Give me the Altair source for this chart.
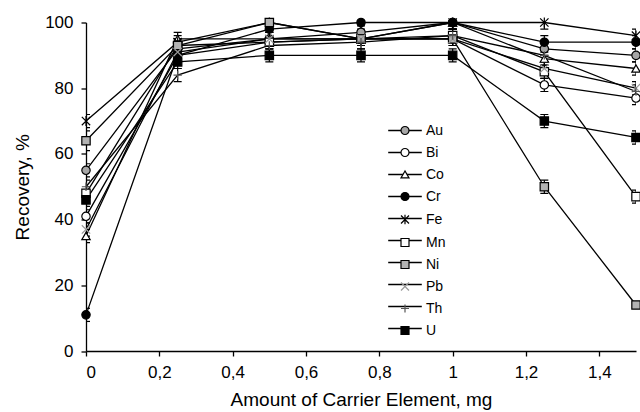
import altair as alt
import pandas as pd

# ---- data ----
x_vals = [0, 0.25, 0.5, 0.75, 1.0, 1.25, 1.5]
series_names = ["Au", "Bi", "Co", "Cr", "Fe", "Mn", "Ni", "Pb", "Th", "U"]

au = [55, 92, 95, 97, 100, 92, 90]
bi = [41, 90, 94, 95, 95, 81, 77]
co = [35, 95, 95, 95, 100, 89, 86]
cr = [11, 90, 98, 100, 100, 94, 94]
fe = [70, 94, 100, 95, 100, 100, 96]
mn = [48, 93, 94, 95, 96, 85, 47]
ni = [64, 93, 100, 95, 95, 50, 14]
pb = [37, 91, 95, 95, 95, 86, 80]
th = [50, 84, 93, 94, 96, 90, 79]
u_ = [46, 88, 90, 90, 90, 70, 65]

au_err = [2, 2, 2, 2, 2, 2, 2]
bi_err = [2, 2, 2, 2, 2, 2, 2]
co_err = [2, 2, 2, 2, 2, 2, 2]
cr_err = [2, 2, 2, 2, 2, 2, 2]
fe_err = [2, 2, 2, 2, 2, 2, 2]
mn_err = [2, 2, 2, 2, 2, 2, 2]
ni_err = [3, 2, 2, 2, 2, 2, 1]
pb_err = [2, 2, 2, 2, 2, 2, 2]
th_err = [2, 2, 2, 2, 2, 2, 2]
u_err = [2, 2, 2, 2, 2, 2, 2]

all_vals = [au, bi, co, cr, fe, mn, ni, pb, th, u_]
all_errs = [au_err, bi_err, co_err, cr_err, fe_err, mn_err, ni_err, pb_err, th_err, u_err]

rows = []
for name, vals, errs in zip(series_names, all_vals, all_errs):
    for xv, v, e in zip(x_vals, vals, errs):
        rows.append({"series": name, "series_l": name, "x": xv, "y": v,
                     "lo": v - e, "hi": v + e})
df = pd.DataFrame(rows)

# ---- styling ----
FONT = "Liberation Sans"
ASTER = "M-1,-1L1,1M-1,1L1,-1M0,-1.2L0,1.2"
XPATH = "M-1,-1L1,1M-1,1L1,-1"
PLUS = "M-1,0L1,0M0,-1L0,1"
LEGLINE = "M-4.2,0L4.2,0"
shape_range = ["circle", "circle", "triangle-up", "circle", ASTER,
               "square", "square", XPATH, PLUS, "square"]
fill_range = ["#a6a6a6", "white", "white", "black", "transparent",
              "white", "#b3b3b3", "transparent", "transparent", "black"]
stroke_range = ["black", "black", "black", "black", "black",
                "black", "black", "#9a9a9a", "#555555", "black"]

x_scale = alt.Scale(domain=[0, 1.5], nice=False, zero=False)
y_scale = alt.Scale(domain=[0, 100], nice=False)

x_axis = alt.Axis(title="Amount of Carrier Element, mg",
                  values=[0, 0.2, 0.4, 0.6, 0.8, 1.0, 1.2, 1.4],
                  labelExpr="replace(format(datum.value, '.1~f'), '.', ',')",
                  grid=False, tickSize=5, labelPadding=8, titlePadding=10)
y_axis = alt.Axis(title="Recovery, %", values=[0, 20, 40, 60, 80, 100],
                  grid=False, tickSize=5, labelPadding=8, titlePadding=12)

X = alt.X("x:Q", scale=x_scale, axis=x_axis)

LEG_X = 312
LEG_Y = 101
line_legend = alt.Legend(orient="none", legendX=LEG_X, legendY=LEG_Y, title=None,
                         symbolType=LEGLINE, symbolSize=64,
                         symbolStrokeWidth=1.3, labelFontSize=14,
                         labelFont=FONT, labelExpr="''", rowPadding=8,
                         zindex=1)
pt_legend = alt.Legend(orient="none", legendX=LEG_X, legendY=LEG_Y, title=None,
                       symbolSize=64, symbolStrokeWidth=1.2, labelFontSize=14,
                       labelFont=FONT, labelColor="black", labelOffset=14,
                       rowPadding=8, zindex=2)

base = alt.Chart(df)

lines = base.mark_line(strokeWidth=1.3).encode(
    x=X,
    y=alt.Y("y:Q", scale=y_scale, axis=y_axis),
    color=alt.Color("series_l:N", scale=alt.Scale(range=["black"] * 10),
                    legend=line_legend),
)

err_rule = base.mark_rule(color="black", strokeWidth=1.2, clip=True).encode(
    x=X,
    y=alt.Y("lo:Q", scale=y_scale, axis=y_axis),
    y2="hi:Q",
)
cap_lo = base.mark_tick(orient="horizontal", size=8, thickness=1.2,
                        color="black", opacity=1, clip=True).encode(
    x=X, y=alt.Y("lo:Q", scale=y_scale, axis=y_axis))
cap_hi = base.mark_tick(orient="horizontal", size=8, thickness=1.2,
                        color="black", opacity=1, clip=True).encode(
    x=X, y=alt.Y("hi:Q", scale=y_scale, axis=y_axis))

points = base.mark_point(filled=True, size=70, strokeWidth=1.2, opacity=1).encode(
    x=X,
    y=alt.Y("y:Q", scale=y_scale, axis=y_axis),
    shape=alt.Shape("series:N", scale=alt.Scale(domain=series_names, range=shape_range),
                    legend=pt_legend),
    fill=alt.Fill("series:N", scale=alt.Scale(domain=series_names, range=fill_range),
                  legend=pt_legend),
    stroke=alt.Stroke("series:N", scale=alt.Scale(domain=series_names, range=stroke_range),
                      legend=pt_legend),
)

chart = alt.layer(lines, err_rule, cap_lo, cap_hi, points).properties(
    width=550, height=328.5,
    padding={"left": 86, "top": 22.5, "right": 4, "bottom": 61},
    autosize=alt.AutoSizeParams(type="none"),
    background="white",
).configure_view(stroke=None).configure_axis(
    domainColor="black", tickColor="black", labelColor="black", titleColor="black",
    labelFont=FONT, titleFont=FONT, labelFontSize=17, titleFontSize=19,
    titleFontWeight="normal", domainWidth=1.3, tickWidth=1.3,
)

chart.save("out.html", embed_options={"renderer": "svg", "actions": False})
